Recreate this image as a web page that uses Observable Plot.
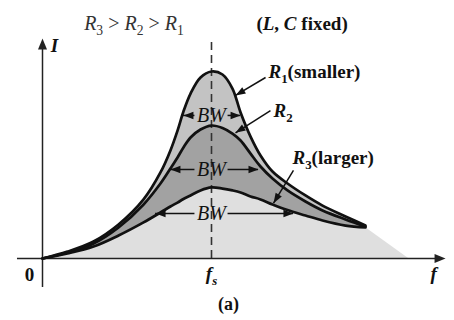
<!DOCTYPE html>
<html><head><meta charset="utf-8">
<script src="https://cdn.jsdelivr.net/npm/d3@7"></script>
<script src="https://cdn.jsdelivr.net/npm/@observablehq/plot@0.6"></script>
<style>body{margin:0;background:#fff}</style>
</head><body><div id="chart"></div>
<script>
// ---- data (f in units of f_s, I in units of the R1 peak) ----
const freq      = [0, 0.148, 0.302, 0.450, 0.598, 0.698, 0.757, 0.799, 0.834, 0.876, 0.935, 1.0, 1.065, 1.124, 1.172, 1.231, 1.290, 1.361, 1.450, 1.556, 1.657, 1.793, 1.911];
const currentR1 = [0, 0.037, 0.091, 0.182, 0.316, 0.460, 0.578, 0.684, 0.786, 0.882, 0.968, 1.0, 0.984, 0.909, 0.781, 0.652, 0.551, 0.465, 0.401, 0.337, 0.283, 0.225, 0.176];
const currentR2 = [0, 0.032, 0.080, 0.166, 0.289, 0.401, 0.481, 0.540, 0.594, 0.647, 0.690, 0.711, 0.698, 0.668, 0.631, 0.561, 0.492, 0.428, 0.364, 0.305, 0.257, 0.209, 0.171];
const currentR3 = [0, 0.027, 0.064, 0.123, 0.193, 0.246, 0.278, 0.299, 0.318, 0.337, 0.364, 0.380, 0.374, 0.364, 0.353, 0.332, 0.316, 0.289, 0.259, 0.230, 0.203, 0.176, 0.166];
const tailEndFreq = 2.166;
const resonanceFreq = 1.0;

const bwLabel   = ["*BW*", "*BW*", "*BW*"];
const bwCurrent = [0.765, 0.476, 0.241];
const bwLow     = [0.834, 0.757, 0.669];
const bwHigh    = [1.172, 1.278, 1.485];

const curveLabels = ["*R*_1(smaller)", "*R*_2", "*R*_3(larger)"];
const curveLabelF = [1.337, 1.367, 1.479];
const curveLabelI = [1.0, 0.791, 0.540];
const leaderFromF = [1.320, 1.349, 1.485];
const leaderFromI = [0.968, 0.791, 0.471];
const leaderToF   = [1.142, 1.142, 1.367];
const leaderToI   = [0.872, 0.672, 0.296];

const titleLeft  = "*R*_3 > *R*_2 > *R*_1";
const titleRight = "(*L*, *C* fixed)";
const titleF = [0.541, 1.536];
const titleI = 1.257;
const axisLabels = ["*I*", "0", "*f_s*", "*f*"];
const axisLabelF = [0.071, -0.077, 1.0, 2.314];
const axisLabelI = [1.139, -0.086, -0.080, -0.080];
const caption = "(a)";
const captionF = 1.101, captionI = -0.245;

const xAxisExtent = [-0.148, 2.36], xAxisTip = 2.385;
const yAxisExtent = [-0.155, 1.15], yAxisTip = 1.176;

// ---- derived tables ----
const curves = freq.map((f, i) => ({f, r1: currentR1[i], r2: currentR2[i], r3: currentR3[i]}));
const tail = [...freq.slice(-2).map((f, i) => ({f, i: currentR3[currentR3.length - 2 + i]})), {f: tailEndFreq, i: 0}];
const bw = bwLabel.map((t, k) => ({t, y: bwCurrent[k], lo: bwLow[k], hi: bwHigh[k]}));

const W = 454, H = 320;
const xDom = [-42/169, 412/169], yDom = [-62/187, 258/187];
const kx = W / (xDom[1] - xDom[0]), ky = H / (yDom[1] - yDom[0]);
const leaders = curveLabels.map((t, k) => {
  const dx = (leaderToF[k] - leaderFromF[k]) * kx, dy = -(leaderToI[k] - leaderFromI[k]) * ky;
  return {x1: leaderFromF[k], y1: leaderFromI[k], x2: leaderToF[k], y2: leaderToI[k], rot: Math.atan2(dx, -dy) * 180 / Math.PI};
});
const labels = curveLabels.map((t, k) => ({t, x: curveLabelF[k], y: curveLabelI[k]}));
const axisTexts = axisLabels.map((t, k) => ({t, x: axisLabelF[k], y: axisLabelI[k]}));

// narrow filled arrowhead, tip at origin, pointing up
const head = (len, half) => ({draw(ctx, size) {
  const s = Math.sqrt(size / Math.PI) / 3;
  ctx.moveTo(0, 0); ctx.lineTo(half * s, len * s); ctx.lineTo(-half * s, len * s); ctx.closePath();
}});
const gap = 0.098;
const serif = "Liberation Serif";

const plot = Plot.plot({
  width: W, height: H,
  marginTop: 0, marginBottom: 0, marginLeft: 0, marginRight: 0,
  x: {domain: xDom, axis: null},
  y: {domain: yDom, axis: null},
  style: {fontFamily: serif, background: "white"},
  marks: [
    Plot.areaY(curves, {x: "f", y1: 0, y2: "r3", curve: "catmull-rom", fill: "#dfdfdf"}),
    Plot.areaY(tail, {x: "f", y1: 0, y2: "i", fill: "#dfdfdf"}),
    Plot.areaY(curves, {x: "f", y1: "r3", y2: "r2", curve: "catmull-rom", fill: "#a2a2a2"}),
    Plot.areaY(curves, {x: "f", y1: "r2", y2: "r1", curve: "catmull-rom", fill: "#c3c3c3"}),
    Plot.ruleX([resonanceFreq], {y1: 0, y2: yAxisTip, stroke: "#333", strokeWidth: 1.6, strokeDasharray: "8,5"}),
    Plot.ruleY([0], {x1: xAxisExtent[0], x2: xAxisExtent[1], stroke: "#222", strokeWidth: 1.5}),
    Plot.ruleX([0], {y1: yAxisExtent[0], y2: yAxisExtent[1], stroke: "#222", strokeWidth: 1.5}),
    Plot.dot([{x: xAxisTip, y: 0, r: 90}, {x: 0, y: yAxisTip, r: 0}], {x: "x", y: "y", rotate: "r", r: 3, symbol: head(11, 4.5), fill: "#222", stroke: "none"}),
    Plot.line(curves, {x: "f", y: "r3", curve: "catmull-rom", stroke: "#111", strokeWidth: 2.7, strokeLinecap: "round"}),
    Plot.line(curves, {x: "f", y: "r2", curve: "catmull-rom", stroke: "#111", strokeWidth: 2.7, strokeLinecap: "round"}),
    Plot.line(curves, {x: "f", y: "r1", curve: "catmull-rom", stroke: "#111", strokeWidth: 2.7, strokeLinecap: "round"}),
    Plot.ruleY(bw, {y: "y", x1: "lo", x2: d => resonanceFreq - gap, stroke: "#111", strokeWidth: 1.5}),
    Plot.ruleY(bw, {y: "y", x1: d => resonanceFreq + gap, x2: "hi", stroke: "#111", strokeWidth: 1.5}),
    Plot.dot(bw, {x: "lo", y: "y", rotate: -90, r: 3, symbol: head(10, 3.8), fill: "#111", stroke: "none"}),
    Plot.dot(bw, {x: "hi", y: "y", rotate: 90, r: 3, symbol: head(10, 3.8), fill: "#111", stroke: "none"}),
    Plot.text(bw, {x: resonanceFreq, y: "y", text: "t", fontSize: 20, fill: "#111"}),
    Plot.link(leaders, {x1: "x1", y1: "y1", x2: "x2", y2: "y2", stroke: "#111", strokeWidth: 1.5}),
    Plot.dot(leaders, {x: "x2", y: "y2", rotate: "rot", r: 3, symbol: head(10, 3.6), fill: "#111", stroke: "none"}),
    Plot.text(labels, {x: "x", y: "y", text: "t", textAnchor: "start", fontSize: 19, fontWeight: "bold", fill: "#111"}),
    Plot.text([titleLeft], {x: titleF[0], y: titleI, text: d => d, fontSize: 20, fill: "#333"}),
    Plot.text([titleRight], {x: titleF[1], y: titleI, text: d => d, fontSize: 19, fontWeight: "bold", fill: "#111"}),
    Plot.text(axisTexts, {x: "x", y: "y", text: "t", fontSize: 19, fontWeight: "bold", fill: "#111"}),
    Plot.text([caption], {x: captionF, y: captionI, text: d => d, fontSize: 18, fontWeight: "bold", fill: "#111"})
  ]
});
document.getElementById("chart").appendChild(plot);

// light markup: *x* italic, _c subscript
const NS = "http://www.w3.org/2000/svg";
plot.querySelectorAll("text").forEach(t => {
  const s = t.textContent;
  if (!/[*_]/.test(s)) return;
  const fsz = parseFloat(getComputedStyle(t).fontSize) || 19;
  const shift = fsz * 0.28;
  t.textContent = "";
  t.style.whiteSpace = "pre";
  let italic = false, pendingUp = false, buf = "";
  const flush = () => {
    if (!buf) return;
    const sp = document.createElementNS(NS, "tspan");
    sp.textContent = buf;
    if (italic) sp.setAttribute("font-style", "italic");
    if (pendingUp) { sp.setAttribute("dy", -shift); pendingUp = false; }
    t.appendChild(sp); buf = "";
  };
  for (let i = 0; i < s.length; i++) {
    const c = s[i];
    if (c === "*") { flush(); italic = !italic; }
    else if (c === "_") {
      flush();
      const sp = document.createElementNS(NS, "tspan");
      sp.textContent = s[++i];
      if (italic) sp.setAttribute("font-style", "italic");
      sp.setAttribute("font-size", fsz * 0.68);
      sp.setAttribute("dy", pendingUp ? 0 : shift);
      t.appendChild(sp);
      pendingUp = true;
    } else buf += c;
  }
  flush();
});
</script>
</body></html>
